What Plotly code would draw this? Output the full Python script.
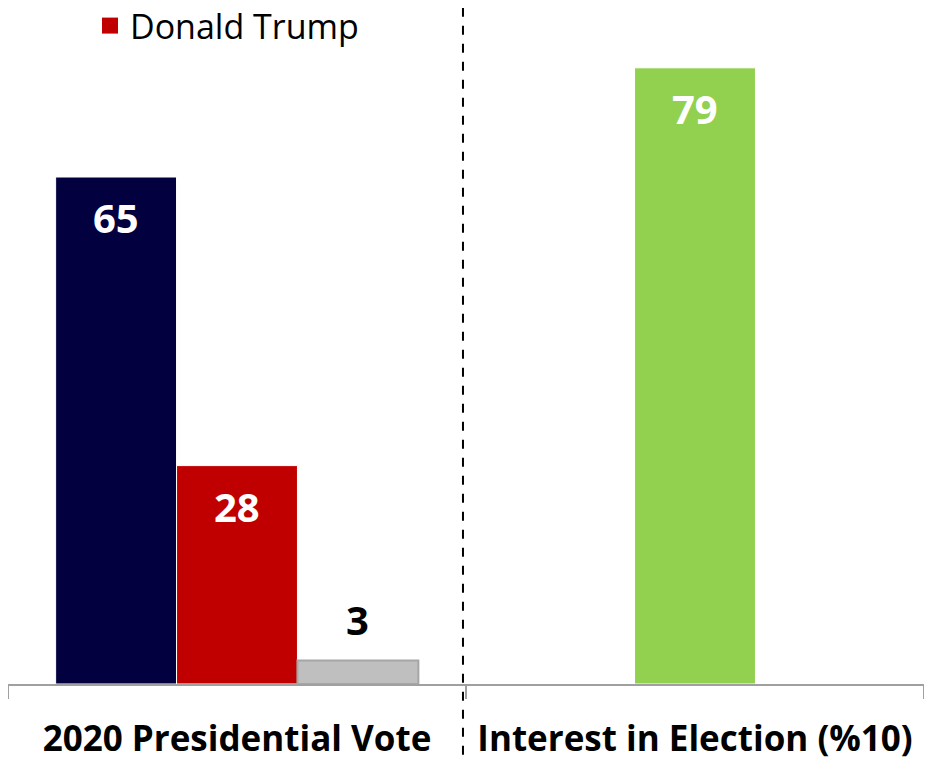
import plotly.graph_objects as go

categories = ["2020 Presidential Vote", "Interest in Election (%10)"]
vote_series = ["Joe Biden", "Donald Trump", "Other"]
vote_values = [65, 28, 3]
vote_colors = ["#02003F", "#C00000", "#BFBFBF"]
interest_label = "Interest"
interest_value = [79]
interest_color = "#92D050"
legend_series = "Donald Trump"

bar_w = 0.264
offsets = [-1.5 * bar_w, -0.5 * bar_w, 0.5 * bar_w]

FONT = "Open Sans"
fig = go.Figure()

for name, val, col, off in zip(vote_series, vote_values, vote_colors, offsets):
    fig.add_trace(go.Bar(
        x=[categories[0]], y=[val], name=name,
        width=bar_w, offset=off,
        marker=dict(color=col,
                    line=dict(color="#A6A6A6" if name == "Other" else "white",
                              width=2 if name == "Other" else 1)),
        showlegend=False, legendgroup=name,
    ))
    inside = val > 10
    fig.add_annotation(
        x=0 + off + bar_w / 2, y=val, xref="x", yref="y",
        text=str(val), showarrow=False,
        yanchor="top" if inside else "bottom",
        yshift=-11 if inside else 12,
        font=dict(family=FONT, size=40, color="white" if inside else "black", weight="bold"),
    )

# legend entry (larger square symbol) for the Trump series
trump_color = vote_colors[vote_series.index(legend_series)]
fig.add_trace(go.Scatter(
    x=[categories[0]], y=[None], mode="markers", name=legend_series,
    legendgroup=legend_series,
    marker=dict(symbol="square", size=16, color=trump_color, line=dict(width=0)),
    showlegend=True, hoverinfo="skip",
))

fig.add_trace(go.Bar(
    x=[categories[1]], y=interest_value, name=interest_label,
    width=bar_w, offset=-bar_w / 2,
    marker=dict(color=interest_color, line=dict(color="white", width=1)),
    showlegend=False,
))
fig.add_annotation(
    x=1, y=interest_value[0], xref="x", yref="y",
    text=str(interest_value[0]), showarrow=False, yanchor="top", yshift=-11,
    font=dict(family=FONT, size=40, color="white", weight="bold"),
)

fig.add_shape(type="line", xref="x", yref="paper", x0=0.4934, x1=0.4934, y0=-0.2, y1=1.2,
              line=dict(color="black", width=2, dash="dash"))

fig.update_layout(
    width=916, height=753,
    margin=dict(l=0, r=0, t=52, b=77, autoexpand=False),
    paper_bgcolor="white", plot_bgcolor="white",
    barmode="overlay",
    showlegend=True,
    legend=dict(x=0.0895, y=1.0545, xanchor="left", yanchor="middle", orientation="h",
                font=dict(family=FONT, size=34, color="black"), bgcolor="rgba(0,0,0,0)",
                borderwidth=0),
    xaxis=dict(type="category", range=[-0.5, 1.5], showline=True, linecolor="#A0A0A0", linewidth=2,
               ticks="outside", tickson="boundaries", ticklen=13, tickcolor="#A0A0A0", tickwidth=2,
               tickfont=dict(family=FONT, size=35, color="black", weight="bold"),
               ticklabelstandoff=23, showgrid=False),
    yaxis=dict(range=[0, 80], visible=False, showgrid=False),
)

fig.write_html("out.html")
